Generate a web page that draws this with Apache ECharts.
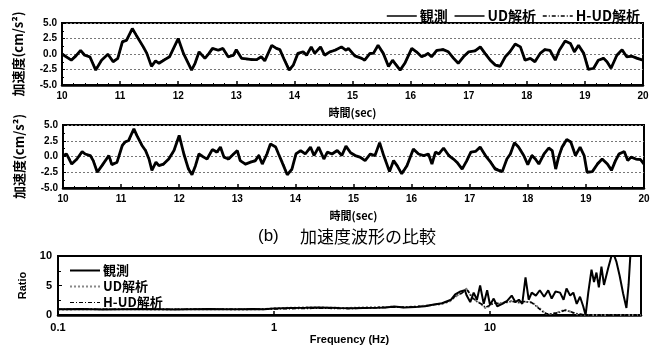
<!DOCTYPE html>
<html><head><meta charset="utf-8">
<script src="https://cdn.jsdelivr.net/npm/echarts@6/dist/echarts.min.js"></script>
<style>html,body{margin:0;padding:0;background:#fff}#c{width:657px;height:346px}</style>
</head><body><div id="c"></div>
<script>
// ---- Panel 1 (観測 vs UD解析) ----
const tA = [10.0,10.08,10.16,10.24,10.32,10.39,10.48,10.58,10.68,10.79,
  10.88,10.96,11.04,11.11,11.21,11.28,11.4,11.46,11.54,11.61,
  11.67,11.77,11.85,12.0,12.09,12.23,12.29,12.36,12.46,12.53,
  12.59,12.69,12.77,12.86,12.95,13.0,13.09,13.18,13.26,13.35,
  13.43,13.49,13.61,13.69,13.75,13.83,13.91,13.98,14.06,14.15,
  14.21,14.29,14.35,14.45,14.52,14.61,14.7,14.81,14.89,14.93,
  15.04,15.16,15.21,15.3,15.36,15.44,15.53,15.62,15.69,15.73,
  15.82,15.9,16.02,16.1,16.19,16.25,16.3,16.36,16.45,16.56,
  16.65,16.74,16.82,16.91,17.0,17.11,17.2,17.28,17.37,17.46,
  17.54,17.63,17.71,17.8,17.89,17.97,18.06,18.14,18.23,18.31,
  18.4,18.49,18.56,18.66,18.75,18.82,18.89,18.98,19.06,19.15,
  19.23,19.32,19.38,19.45,19.55,19.64,19.72,19.81,19.9,20.0];
const obsA = [0.0,-0.5,-1.0,-0.3,0.6,-0.2,-0.45,-2.6,-1.0,-0.05,
  -1.25,-0.7,2.0,2.2,4.1,3.0,1.15,0.1,-2.0,-1.1,
  -1.5,-0.9,-0.45,2.5,0.1,-2.6,-1.5,0.35,-0.7,0.1,
  0.9,0.6,0.9,-0.45,-0.2,0.7,-0.7,-0.8,-0.9,-0.9,
  -0.45,-1.1,1.4,0.9,0.7,-1.0,-2.6,-1.8,0.1,0.35,
  -0.2,1.15,0.1,1.15,-0.2,0.35,0.6,1.15,0.6,0.9,
  -0.3,-0.7,-1.0,0.1,0.1,1.4,0.1,-2.0,-1.0,-1.5,
  -2.6,-1.5,0.9,0.35,-0.45,-0.2,0.1,-0.45,0.6,0.7,
  0.35,-0.7,-1.5,-0.45,0.35,0.5,1.15,0.1,-1.0,-1.8,
  -2.0,-0.45,0.35,1.6,1.15,-1.0,-0.7,-1.25,0.1,0.7,
  0.6,-1.0,0.6,2.1,1.7,0.35,1.4,0.1,-2.5,-2.3,
  -1.0,-0.7,-1.25,-2.3,-0.2,0.7,-0.45,-0.35,-0.7,-1.0];
const udA = [0.1,-0.4,-0.9,-0.2,0.5,-0.1,-0.5,-2.4,-1.1,0.0,
  -1.1,-0.8,1.8,2.3,3.9,3.1,1.0,0.2,-1.9,-1.2,
  -1.4,-0.8,-0.5,2.3,0.2,-2.5,-1.6,0.3,-0.6,0.0,
  0.8,0.7,0.8,-0.4,-0.3,0.6,-0.6,-0.9,-0.8,-1.0,
  -0.5,-1.0,1.3,1.0,0.6,-0.9,-2.4,-1.9,0.0,0.4,
  -0.1,1.0,0.2,1.1,-0.1,0.3,0.7,1.0,0.7,0.8,
  -0.2,-0.8,-0.9,0.0,0.2,1.3,0.2,-1.9,-1.1,-1.4,
  -2.5,-1.6,0.8,0.4,-0.4,-0.3,0.2,-0.4,0.5,0.8,
  0.3,-0.6,-1.4,-0.5,0.3,0.6,1.0,0.2,-0.9,-1.7,
  -1.9,-0.5,0.4,1.5,1.2,-0.9,-0.8,-1.1,0.0,0.8,
  0.5,-0.9,0.7,2.0,1.8,0.3,1.3,0.2,-2.3,-2.4,
  -1.1,-0.6,-1.2,-2.2,-0.3,0.6,-0.4,-0.4,-0.6,-1.1];

// ---- Panel 2 (観測 vs H-UD解析) ----
const tB = [10.0,10.06,10.15,10.24,10.33,10.38,10.47,10.52,10.59,10.67,
  10.79,10.84,10.93,11.02,11.07,11.13,11.22,11.27,11.36,11.42,
  11.48,11.53,11.6,11.65,11.73,11.82,11.91,12.0,12.08,12.16,
  12.22,12.28,12.34,12.42,12.48,12.57,12.65,12.71,12.77,12.85,
  12.91,13.0,13.05,13.14,13.23,13.31,13.37,13.43,13.51,13.57,
  13.66,13.71,13.77,13.86,13.94,14.01,14.09,14.17,14.26,14.32,
  14.4,14.49,14.55,14.63,14.72,14.8,14.87,14.95,15.03,15.11,
  15.2,15.29,15.37,15.45,15.52,15.62,15.69,15.75,15.83,15.92,
  16.03,16.12,16.21,16.29,16.35,16.41,16.47,16.55,16.64,16.72,
  16.78,16.87,16.95,17.02,17.1,17.18,17.27,17.36,17.44,17.56,
  17.64,17.7,17.77,17.84,17.93,18.0,18.07,18.13,18.19,18.28,
  18.36,18.42,18.48,18.53,18.59,18.67,18.74,18.82,18.9,18.97,
  19.02,19.11,19.2,19.28,19.37,19.44,19.51,19.57,19.66,19.72,
  19.78,19.86,19.94,20.0];
const obsB = [0.15,0.4,-1.2,-0.4,0.8,0.4,0.15,-0.65,-2.5,-1.45,
  0.15,-1.3,-0.9,1.75,2.3,2.55,4.4,3.35,1.75,0.95,
  -0.4,-2.2,-0.9,-1.45,-1.2,-0.4,0.95,3.35,0.4,-2.0,
  -2.9,-1.45,0.4,-0.1,-0.4,1.1,0.7,1.5,-0.1,-0.4,
  0.15,0.95,-0.65,-1.2,-0.9,-0.65,0.15,-1.2,0.4,2.0,
  1.5,0.4,-0.9,-2.9,-2.0,0.4,0.95,0.4,1.5,0.15,
  1.5,-0.4,0.7,0.4,0.95,0.15,1.65,0.6,0.15,-0.1,
  -0.65,0.4,0.15,2.2,0.15,-2.4,-0.65,-1.45,-2.75,-1.45,
  1.2,0.4,0.15,0.4,-1.2,0.7,0.4,1.35,0.15,-0.4,
  -0.9,-2.0,-0.65,0.7,0.8,1.5,0.15,-0.9,-2.0,-2.4,
  -0.4,0.4,2.2,1.5,0.15,-1.3,0.15,-0.4,-1.2,0.4,
  1.35,0.95,-2.0,-0.1,1.5,2.7,2.3,0.15,1.5,0.15,
  -2.5,-2.4,-1.2,-0.4,-1.2,-2.2,-0.65,0.4,0.8,-0.65,
  -0.1,-0.4,-0.5,-1.2];
const hudB = [0.0,0.5,-1.0,-0.5,0.7,0.5,0.0,-0.5,-2.3,-1.6,
  0.3,-1.1,-1.0,1.6,2.4,2.4,4.2,3.5,1.6,1.1,
  -0.3,-2.0,-1.0,-1.3,-1.3,-0.3,0.8,3.1,0.6,-1.8,
  -2.7,-1.6,0.5,0.0,-0.5,1.2,0.5,1.3,0.0,-0.6,
  0.3,0.8,-0.5,-1.3,-0.8,-0.8,0.3,-1.0,0.5,1.8,
  1.6,0.3,-0.7,-2.7,-2.2,0.5,0.8,0.5,1.3,0.3,
  1.3,-0.3,0.6,0.5,0.8,0.3,1.5,0.7,0.0,0.0,
  -0.5,0.3,0.3,2.0,0.3,-2.2,-0.8,-1.3,-2.6,-1.3,
  1.0,0.5,0.0,0.5,-1.0,0.6,0.5,1.2,0.3,-0.3,
  -1.0,-1.8,-0.8,0.6,0.9,1.3,0.3,-0.8,-1.8,-2.3,
  -0.5,0.5,2.0,1.6,0.3,-1.1,0.3,-0.3,-1.0,0.5,
  1.2,1.0,-1.8,0.0,1.3,2.5,2.4,0.3,1.3,0.3,
  -2.3,-2.5,-1.0,-0.5,-1.1,-2.0,-0.5,0.5,0.7,-0.5,
  0.0,-0.5,-0.4,-1.1];

// ---- Panel 3 (spectral ratio) ----
const fObs = [0.1,0.13,0.16,0.2,0.25,0.3,0.35,0.4,0.5,0.6,
  0.7,0.8,0.9,1.0,1.2,1.4,1.6,1.8,2.0,2.3,
  2.6,3.0,3.3,3.6,4.0,4.5,5.0,5.5,6.0,6.6,
  6.9,7.3,7.65,7.8,8.1,8.4,8.7,9.0,9.35,9.7,
  10.0,10.4,10.8,11.4,12.0,12.6,13.1,13.6,14.1,14.6,
  15.1,15.6,16.3,17.0,17.8,18.6,19.3,20.1,21.1,21.9,
  22.6,23.5,24.3,25.2,26.1,27.0,27.7,28.5,29.5,30.3,
  31.1,31.9,32.8,33.7,35.2,36.5,37.2,38.5,39.8,41.3,
  42.8,43.8,44.7,47,50];
const rObs = [1.0,1.05,0.95,1.0,1.05,1.0,0.95,1.0,1.05,1.0,
  1.0,1.05,1.0,1.1,1.2,1.25,1.3,1.25,1.2,1.15,
  1.2,1.25,1.3,1.45,1.3,1.35,1.5,1.8,2.0,2.6,
  3.5,4.0,4.2,3.3,2.2,3.8,2.6,5.0,1.9,4.2,
  1.7,2.8,1.5,1.9,2.4,3.3,2.2,2.6,1.9,6.4,
  2.6,3.8,3.3,4.2,3.1,4.2,2.8,4.0,3.8,2.6,
  4.5,3.3,3.8,1.9,3.1,1.5,0.0,3.8,7.7,5.6,
  7.2,4.7,8.2,5.1,7.9,10.0,10.5,9.0,6.7,3.7,
  1.2,5.1,10.5,13,13];
const fAna = [0.1,0.15,0.2,0.3,0.4,0.5,0.7,0.9,1.0,1.2,
  1.5,1.8,2.2,2.6,3.0,3.5,4.0,4.5,5.0,5.4,
  6.0,6.5,6.9,7.4,7.8,8.3,8.7,9.2,9.5,9.9,
  10.4,11.0,11.8,12.6,13.6,14.6,15.6,16.5,17.5,18.3,
  19.3,20.7,22.2,23.5,24.8,26.6,28.5,35,50];
const rUD = [0.95,1.0,1.0,0.95,1.0,1.0,0.95,1.0,1.15,1.25,
  1.3,1.25,1.2,1.3,1.35,1.4,1.35,1.45,1.6,1.7,
  1.9,2.3,3.1,3.8,4.5,2.8,2.4,1.7,1.2,1.5,
  2.1,1.9,2.1,2.4,2.1,2.2,2.2,1.5,0.7,0.2,
  0.2,0.5,0.9,0.6,0.2,0.1,0.0,0.0,0.0];
const rHUD = [1.0,1.0,1.0,1.0,1.0,1.0,1.0,1.0,1.05,1.1,
  1.15,1.15,1.1,1.2,1.25,1.35,1.3,1.4,1.55,1.7,
  2.0,2.4,3.2,3.7,4.4,2.9,2.3,1.8,1.3,1.6,
  2.0,2.0,2.2,2.3,2.2,2.3,2.1,1.4,0.6,0.2,
  0.2,0.4,0.8,0.6,0.3,0.1,0.0,0.0,0.0];

const yTicks = [-5, -2.5, 0, 2.5, 5];
const fTicks = [0.1, 1, 10];

const zip = (a, b) => a.map((x, i) => [x, b[i]]);
const FONT = "'Liberation Sans', Arial, 'Noto Sans CJK JP', sans-serif";
const CJK = "'Noto Sans CJK JP', sans-serif";
const HIDE_SYMBOL = {color: 'rgba(0,0,0,0)', borderColor: 'rgba(0,0,0,0)', borderWidth: 0, opacity: 0};

function waveX(gi, name) {
  return {
    type: 'value', gridIndex: gi, min: 10, max: 20, interval: 1,
    axisLine: {show: true, onZero: false, lineStyle: {color: '#000', width: 2.5}},
    axisTick: {show: true, inside: true, length: 4, lineStyle: {color: '#000', width: 1.5}},
    minorTick: {show: true, splitNumber: 5, length: 2, lineStyle: {color: '#000'}},
    axisLabel: {color: '#000', fontSize: 10, fontWeight: 'bold', fontFamily: FONT, margin: 6},
    splitLine: {show: false},
    name: name, nameLocation: 'middle', nameGap: 22,
    nameTextStyle: {color: '#000', fontSize: 11, fontWeight: 'bold', fontFamily: CJK}
  };
}
function waveY(gi) {
  return {
    type: 'value', gridIndex: gi, min: yTicks[0], max: yTicks[yTicks.length - 1], interval: 2.5,
    axisLine: {show: true, onZero: false, lineStyle: {color: '#000', width: 1.5}},
    axisTick: {show: true, inside: true, length: 3, lineStyle: {color: '#000'}},
    minorTick: {show: true, splitNumber: 2, length: 2, lineStyle: {color: '#000'}},
    axisLabel: {color: '#000', fontSize: 10, fontWeight: 'bold', fontFamily: FONT, margin: 5,
      formatter: v => v.toFixed(1)},
    splitLine: {show: true, lineStyle: {color: '#777', type: [2, 2], width: 1}},
    name: '加速度(cm/s²)', nameLocation: 'middle', nameRotate: 90, nameGap: 37,
    nameTextStyle: {color: '#000', fontSize: 13, fontWeight: 'bold', fontFamily: CJK}
  };
}

const chart = echarts.init(document.getElementById('c'), null, {renderer: 'canvas'});
chart.setOption({
  animation: false,
  backgroundColor: '#fff',
  textStyle: {fontFamily: FONT},
  grid: [
    {left: 62, top: 23, width: 581, height: 62, show: true, borderColor: '#000', borderWidth: 2, containLabel: false},
    {left: 63, top: 125, width: 581, height: 63, show: true, borderColor: '#000', borderWidth: 2, containLabel: false},
    {left: 58, top: 256, width: 583, height: 72, show: true, borderColor: '#000', borderWidth: 2, containLabel: false}
  ],
  legend: [
    {top: 4, right: 12, itemWidth: 30, itemHeight: 14, itemGap: 6, itemStyle: HIDE_SYMBOL,
      data: [
        {name: '観測', lineStyle: {color: '#000', width: 1.5, type: 'solid'}},
        {name: 'UD解析', lineStyle: {color: '#000', width: 1.5, type: 'solid'}},
        {name: 'H-UD解析', lineStyle: {color: '#000', width: 1.5, type: [4, 2, 1, 2]}}
      ],
      textStyle: {color: '#000', fontSize: 14, fontWeight: 'bold', fontFamily: CJK, padding: [0, 0, 0, -2]}},
    {orient: 'vertical', left: 64, top: 259, itemWidth: 30, itemHeight: 14, itemGap: 3, itemStyle: HIDE_SYMBOL,
      data: [
        {name: '観測', lineStyle: {color: '#000', width: 2, type: 'solid'}},
        {name: 'UD解析', lineStyle: {color: '#888', width: 2, type: 'dotted'}},
        {name: 'H-UD解析', lineStyle: {color: '#000', width: 1.2, type: [4, 2, 1, 2]}}
      ],
      textStyle: {color: '#000', fontSize: 13, fontWeight: 'bold', fontFamily: CJK, padding: [0, 0, 0, -2]}}
  ],
  xAxis: [
    waveX(0, '時間(sec)'),
    waveX(1, '時間(sec)'),
    {type: 'log', gridIndex: 2, logBase: 10, min: fTicks[0], max: 50,
      axisLine: {show: true, onZero: false, lineStyle: {color: '#000', width: 2.5}},
      axisTick: {show: true, inside: true, length: 4, lineStyle: {color: '#000', width: 1.5}},
      axisLabel: {color: '#000', fontSize: 11, fontWeight: 'bold', fontFamily: FONT, margin: 7,
        showMaxLabel: false, formatter: v => String(v)},
      splitLine: {show: false},
      name: 'Frequency (Hz)', nameLocation: 'middle', nameGap: 7,
      nameTextStyle: {color: '#000', fontSize: 11, fontWeight: 'bold', fontFamily: FONT, verticalAlign: 'top'}}
  ],
  yAxis: [
    waveY(0),
    waveY(1),
    {type: 'value', gridIndex: 2, min: 0, max: 10, interval: 5,
      axisLine: {show: true, onZero: false, lineStyle: {color: '#000', width: 2}},
      axisTick: {show: true, inside: true, length: 4, lineStyle: {color: '#000'}},
      minorTick: {show: true, splitNumber: 2, length: 3, lineStyle: {color: '#000'}},
      axisLabel: {color: '#000', fontSize: 11, fontWeight: 'bold', fontFamily: FONT, margin: 6},
      splitLine: {show: false},
      name: 'Ratio', nameLocation: 'middle', nameRotate: 90, nameGap: 22,
      nameTextStyle: {color: '#000', fontSize: 11, fontWeight: 'bold', fontFamily: FONT}}
  ],
  series: [
    {name: '観測', type: 'line', xAxisIndex: 0, yAxisIndex: 0, data: zip(tA, obsA), symbol: 'none',
      lineStyle: {color: '#000', width: 2.8}, itemStyle: {color: '#000'}, z: 3},
    {name: 'UD解析', type: 'line', xAxisIndex: 0, yAxisIndex: 0, data: zip(tA, udA), symbol: 'none',
      lineStyle: {color: '#000', width: 1.4}, itemStyle: {color: '#000'}, z: 4},
    {name: '観測', type: 'line', xAxisIndex: 1, yAxisIndex: 1, data: zip(tB, obsB), symbol: 'none',
      lineStyle: {color: '#000', width: 2.8}, itemStyle: {color: '#000'}, z: 3},
    {name: 'H-UD解析', type: 'line', xAxisIndex: 1, yAxisIndex: 1, data: zip(tB, hudB), symbol: 'none',
      lineStyle: {color: '#000', width: 1.4, type: [4, 2, 1, 2]}, itemStyle: {color: '#000'}, z: 4},
    {name: '観測', type: 'line', xAxisIndex: 2, yAxisIndex: 2, data: zip(fObs, rObs), symbol: 'none',
      lineStyle: {color: '#000', width: 2}, itemStyle: {color: '#000'}, z: 3},
    {name: 'UD解析', type: 'line', xAxisIndex: 2, yAxisIndex: 2, data: zip(fAna, rUD), symbol: 'none',
      lineStyle: {color: '#777', width: 2, type: 'dotted'}, itemStyle: {color: '#777'}, z: 2},
    {name: 'H-UD解析', type: 'line', xAxisIndex: 2, yAxisIndex: 2, data: zip(fAna, rHUD), symbol: 'none',
      lineStyle: {color: '#000', width: 1.6, type: [4, 2, 1, 2]}, itemStyle: {color: '#000'}, z: 4}
  ],
  graphic: [
    {type: 'text', left: 258, top: 228, style: {text: '(b)', fontSize: 17, fontFamily: FONT, fill: '#000'}},
    {type: 'text', left: 300, top: 228, style: {text: '加速度波形の比較', fontSize: 17, fontFamily: CJK, fill: '#000'}}
  ]
});
</script></body></html>
